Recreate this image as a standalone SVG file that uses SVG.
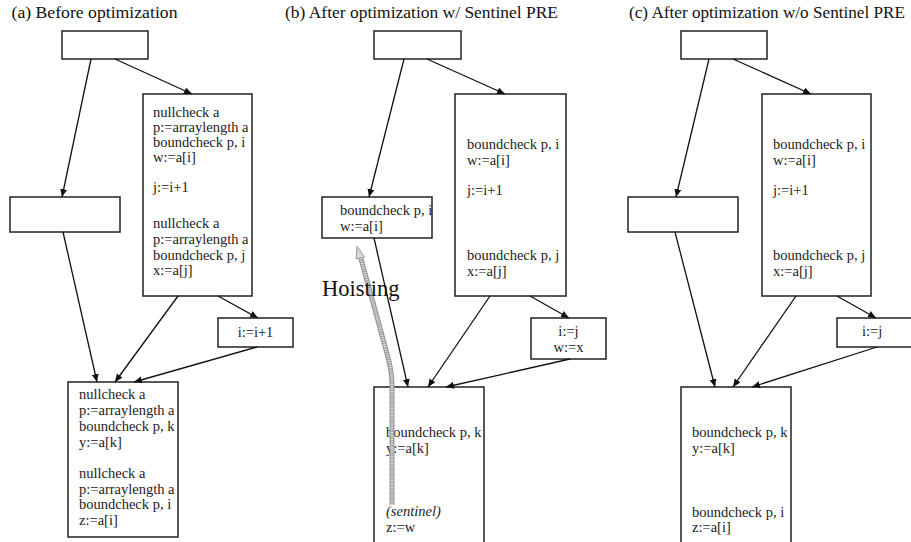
<svg xmlns="http://www.w3.org/2000/svg" width="911" height="542" viewBox="0 0 911 542">
<style>
.box{fill:#fff;stroke:#222;stroke-width:1.5}
.t{font-family:"Liberation Serif","Times New Roman",serif;font-size:14.5px;fill:#222}
.ti{font-family:"Liberation Serif","Times New Roman",serif;font-size:17.3px;fill:#111}
.it{font-style:italic}
.c{fill:none;stroke:#111;stroke-width:1.3}
</style>
<defs>
<marker id="ah" markerUnits="userSpaceOnUse" markerWidth="10" markerHeight="8" refX="8" refY="3.5" orient="auto">
<path d="M0,0 L8,3.5 L0,7 Z" fill="#111"/>
</marker>
</defs>
<rect width="911" height="542" fill="#fff"/>

<g id="titles">
<text class="ti" x="11.5" y="18" textLength="166" lengthAdjust="spacingAndGlyphs">(a) Before optimization</text>
<text class="ti" x="285" y="18" textLength="273" lengthAdjust="spacingAndGlyphs">(b) After optimization w/ Sentinel PRE</text>
<text class="ti" x="629" y="18" textLength="276" lengthAdjust="spacingAndGlyphs">(c) After optimization w/o Sentinel PRE</text>
</g>

<!-- Panel (a) -->
<g id="a_top"><rect class="box" x="62" y="31" width="86" height="28"/></g>
<g id="a_right"><rect class="box" x="143" y="94" width="109" height="202"/>
<text class="t" x="153" y="117">nullcheck a</text>
<text class="t" x="153" y="132">p:=arraylength a</text>
<text class="t" x="153" y="147">boundcheck p, i</text>
<text class="t" x="153" y="162">w:=a[i]</text>
<text class="t" x="153" y="192">j:=i+1</text>
<text class="t" x="153" y="228">nullcheck a</text>
<text class="t" x="153" y="244">p:=arraylength a</text>
<text class="t" x="153" y="260">boundcheck p, j</text>
<text class="t" x="153" y="275">x:=a[j]</text>
</g>
<g id="a_left"><rect class="box" x="10" y="197" width="110" height="35"/></g>
<g id="a_small"><rect class="box" x="218" y="318" width="75" height="29"/>
<text class="t" x="255.5" y="337" text-anchor="middle">i:=i+1</text>
</g>
<g id="a_bottom"><rect class="box" x="68" y="382" width="110" height="155"/>
<text class="t" x="79" y="399">nullcheck a</text>
<text class="t" x="79" y="415">p:=arraylength a</text>
<text class="t" x="79" y="431">boundcheck p, k</text>
<text class="t" x="79" y="447">y:=a[k]</text>
<text class="t" x="79" y="478">nullcheck a</text>
<text class="t" x="79" y="494">p:=arraylength a</text>
<text class="t" x="79" y="509">boundcheck p, i</text>
<text class="t" x="79" y="525">z:=a[i]</text>
</g>

<!-- Panel (b) -->
<g id="b_top"><rect class="box" x="374" y="31" width="87" height="28"/></g>
<g id="b_right"><rect class="box" x="455" y="94" width="111" height="202"/>
<text class="t" x="467" y="149">boundcheck p, i</text>
<text class="t" x="467" y="165">w:=a[i]</text>
<text class="t" x="467" y="195">j:=i+1</text>
<text class="t" x="467" y="260">boundcheck p, j</text>
<text class="t" x="467" y="276">x:=a[j]</text>
</g>
<g id="b_left"><rect class="box" x="322" y="197" width="110" height="41"/>
<text class="t" x="340" y="215">boundcheck p, i</text>
<text class="t" x="340" y="231">w:=a[i]</text>
</g>
<g id="b_small"><rect class="box" x="531" y="318" width="75" height="41"/>
<text class="t" x="568.5" y="336" text-anchor="middle">i:=j</text>
<text class="t" x="568.5" y="352" text-anchor="middle">w:=x</text>
</g>
<g id="b_bottom"><rect class="box" x="374" y="387" width="110" height="170"/>
<text class="t" x="386" y="437">boundcheck p, k</text>
<text class="t" x="386" y="453">y:=a[k]</text>
<text class="t it" x="386" y="516">(sentinel)</text>
<text class="t" x="386" y="532">z:=w</text>
</g>

<!-- Panel (c) -->
<g id="c_top"><rect class="box" x="681" y="31" width="86" height="28"/></g>
<g id="c_right"><rect class="box" x="762" y="94" width="109" height="202"/>
<text class="t" x="773" y="149">boundcheck p, i</text>
<text class="t" x="773" y="165">w:=a[i]</text>
<text class="t" x="773" y="195">j:=i+1</text>
<text class="t" x="773" y="260">boundcheck p, j</text>
<text class="t" x="773" y="276">x:=a[j]</text>
</g>
<g id="c_left"><rect class="box" x="628" y="197" width="110" height="35"/></g>
<g id="c_small"><rect class="box" x="837" y="318" width="90" height="29"/>
<text class="t" x="862" y="336">i:=j</text>
</g>
<g id="c_bottom"><rect class="box" x="681" y="387" width="110" height="170"/>
<text class="t" x="692" y="437">boundcheck p, k</text>
<text class="t" x="692" y="453">y:=a[k]</text>
<text class="t" x="692" y="517">boundcheck p, i</text>
<text class="t" x="692" y="532">z:=a[i]</text>
</g>

<g id="connectors">
<line class="c" x1="91" y1="59" x2="62" y2="197" marker-end="url(#ah)"/>
<line class="c" x1="115" y1="59" x2="192" y2="94" marker-end="url(#ah)"/>
<line class="c" x1="63" y1="232" x2="97" y2="382" marker-end="url(#ah)"/>
<line class="c" x1="178" y1="296" x2="115" y2="382" marker-end="url(#ah)"/>
<line class="c" x1="218" y1="296" x2="258" y2="318" marker-end="url(#ah)"/>
<line class="c" x1="257" y1="347" x2="134" y2="382" marker-end="url(#ah)"/>

<line class="c" x1="404" y1="59" x2="369" y2="197" marker-end="url(#ah)"/>
<line class="c" x1="427" y1="59" x2="505" y2="94" marker-end="url(#ah)"/>
<line class="c" x1="374" y1="238" x2="408" y2="387" marker-end="url(#ah)"/>
<line class="c" x1="490" y1="296" x2="428" y2="387" marker-end="url(#ah)"/>
<line class="c" x1="530" y1="296" x2="569" y2="318" marker-end="url(#ah)"/>
<line class="c" x1="570" y1="359" x2="446" y2="387" marker-end="url(#ah)"/>

<line class="c" x1="709" y1="59" x2="676" y2="197" marker-end="url(#ah)"/>
<line class="c" x1="733" y1="59" x2="811" y2="94" marker-end="url(#ah)"/>
<line class="c" x1="675" y1="232" x2="715" y2="387" marker-end="url(#ah)"/>
<line class="c" x1="796" y1="296" x2="733" y2="387" marker-end="url(#ah)"/>
<line class="c" x1="837" y1="296" x2="876" y2="318" marker-end="url(#ah)"/>
<line class="c" x1="877" y1="347" x2="752" y2="387" marker-end="url(#ah)"/>
</g>

<g id="hoisting">
<path d="M392,505 L392,385 C392,370 389,360 386,350 L360.5,257" fill="none" stroke="#9a9a9a" stroke-width="5"/>
<path d="M392,505 L392,385 C392,370 389,360 386,350 L360.5,257" fill="none" stroke="#e4e4e4" stroke-width="2.6" stroke-dasharray="1.2 1.2"/>
<polygon points="357,246 364.5,257 356,259" fill="#d8d8d8" stroke="#9a9a9a" stroke-width="1"/>
<text x="322" y="296" font-family="Liberation Serif, Times New Roman, serif" font-size="22.5" fill="#111">Hoisting</text>
</g>
</svg>
